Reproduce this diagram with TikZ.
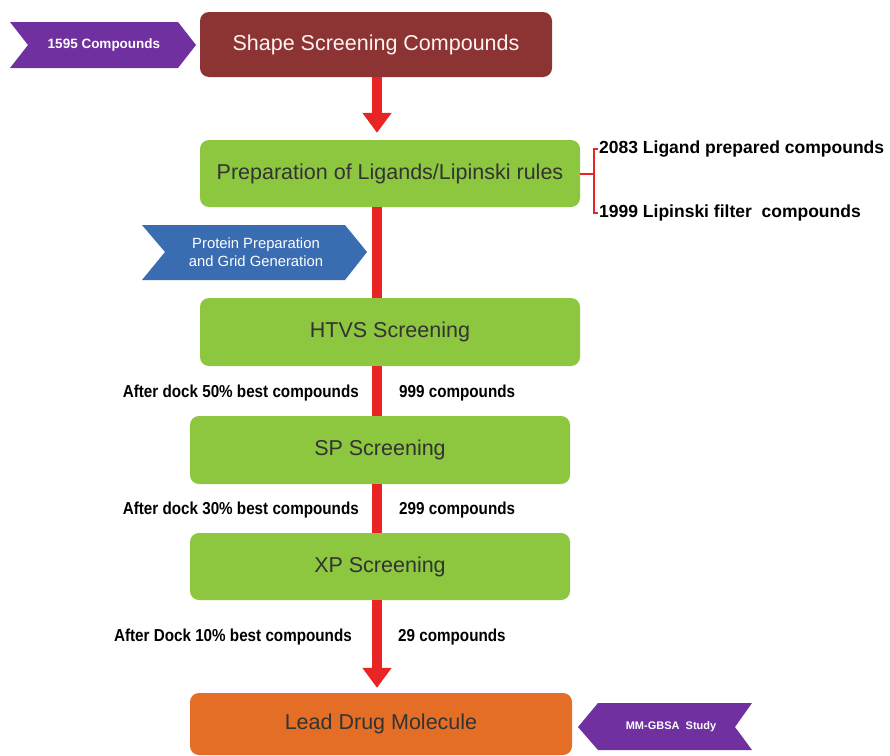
\documentclass[tikz,border=0pt]{standalone}
\usepackage{fontspec}
\setmainfont{Liberation Sans}
\newfontfamily\narrowsans[FakeStretch=0.88]{Liberation Sans}
\usetikzlibrary{arrows.meta}
\definecolor{boxbrown}{RGB}{140,52,52}
\definecolor{boxgreen}{RGB}{141,198,63}
\definecolor{boxorange}{RGB}{228,110,38}
\definecolor{tagpurple}{RGB}{112,48,160}
\definecolor{tagblue}{RGB}{58,108,178}
\definecolor{flowred}{RGB}{232,36,36}
\tikzset{
  stage/.style={rounded corners=9pt, minimum width=380pt, minimum height=67pt,
    font=\fontsize{21.5}{25}\selectfont, text=black!80},
  count/.style={inner sep=1pt, font=\narrowsans\bfseries\fontsize{17.3}{20}\selectfont},
  flow/.style={line width=10pt, draw=flowred},
  flowarrow/.style={flow, -{Triangle[length=20pt,width=28pt]}},
  brace/.style={draw=flowred, line width=2pt},
  tag/.style={text=white, align=center},
}

\begin{document}
\begin{tikzpicture}[x=1pt,y=-1pt]
  \fill[white] (0,0) rectangle (890,755);
  \useasboundingbox (0,0) rectangle (890,755);
  \coordinate (spine) at (377,0);

  % main stages
  \node[stage, fill=boxbrown, text=red!5, minimum width=352pt, minimum height=65pt] (shape) at (376,44.5) {Shape Screening Compounds};
  \node[stage, fill=boxgreen] (prep) at (390,173.5) {Preparation of Ligands/Lipinski rules};
  \node[stage, fill=boxgreen, minimum height=68pt] (htvs) at (390,332) {HTVS Screening};
  \node[stage, fill=boxgreen, minimum height=68pt] (sp) at (380,450) {SP Screening};
  \node[stage, fill=boxgreen] (xp) at (380,566.5) {XP Screening};
  \node[stage, fill=boxorange, minimum width=382pt, minimum height=62pt] (lead) at (381,724) {Lead Drug Molecule};

  % red flow line
  \draw[flowarrow, shorten >=7pt] (shape.south -| spine) -- (prep.north -| spine);
  \draw[flow] (prep.south -| spine) -- (htvs.north -| spine);
  \draw[flow] (htvs.south -| spine) -- (sp.north -| spine);
  \draw[flow] (sp.south -| spine) -- (xp.north -| spine);
  \draw[flowarrow, shorten >=5pt] (xp.south -| spine) -- (lead.north -| spine);

  % side tags
  \fill[tagpurple] (10,22) -- (178,22) -- (196,45) -- (178,68) -- (10,68) -- (28,45) -- cycle;
  \node[tag, font=\bfseries\fontsize{13.5}{15}\selectfont] (cmpd) at (104,45) {1595 Compounds};
  \fill[tagblue] (142,225) -- (345,225) -- (367,252) -- (345,280) -- (142,280) -- (165,252) -- cycle;
  \node[tag, font=\fontsize{14.8}{18.5}\selectfont] (protein) at (256,252) {Protein Preparation\\and Grid Generation};
  \fill[tagpurple] (578,727) -- (598,703) -- (752,703) -- (735,727) -- (752,750) -- (598,750) -- cycle;
  \node[tag, font=\bfseries\fontsize{11}{13}\selectfont] (mmgbsa) at (671,727) {MM-GBSA\ \ Study};

  % ligand counts
  \node[count, anchor=west, font=\bfseries\fontsize{17.5}{20}\selectfont] (lig) at (598,149) {2083 Ligand prepared compounds};
  \node[count, anchor=west, font=\bfseries\fontsize{17.5}{20}\selectfont] (lip) at (598,213) {1999 Lipinski filter\ \ compounds};
  \coordinate (brc) at (594,176);
  \draw[brace] (prep.east) -- (prep.east -| brc);
  \draw[brace] (lig.west) -| (brc) |- (lip.west);

  % docking counts
  \node[count, anchor=east] (best50) at (360,393) {After dock 50\% best compounds};
  \node[count, anchor=west] (n999) at (398,393) {999 compounds};
  \node[count, anchor=east] (best30) at (360,510) {After dock 30\% best compounds};
  \node[count, anchor=west] (n299) at (398,510) {299 compounds};
  \node[count, anchor=east] (best10) at (353,637) {After Dock 10\% best compounds};
  \node[count, anchor=west] (n29) at (397,637) {29 compounds};
\end{tikzpicture}
\end{document}
